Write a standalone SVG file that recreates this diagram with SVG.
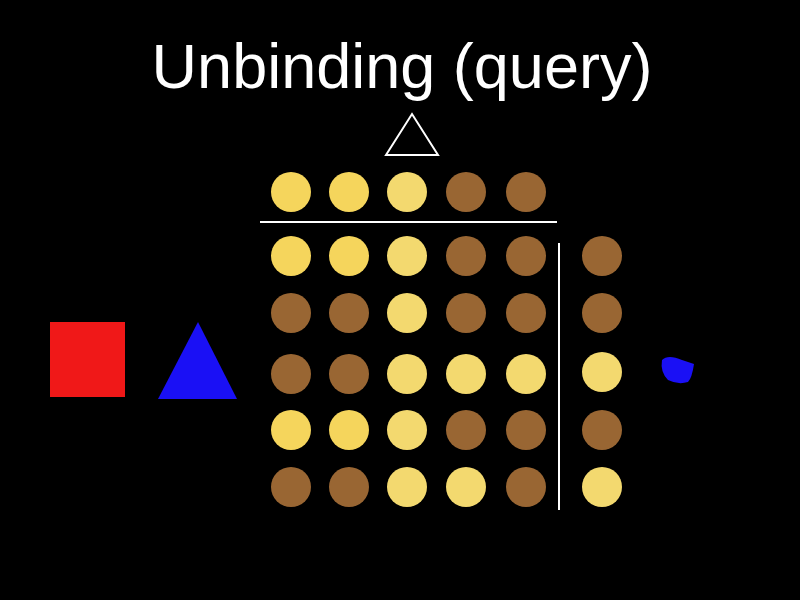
<svg xmlns="http://www.w3.org/2000/svg" width="800" height="600" viewBox="0 0 800 600">
<style>.y{fill:#F5D55C}.l{fill:#F3D96F}.b{fill:#996633}</style>
<rect width="800" height="600" fill="#000"/>
<text x="402" y="88" font-family="Liberation Sans, sans-serif" font-size="63" fill="#fff" text-anchor="middle">Unbinding (query)</text>
<polygon points="386,155 412,114 438,155" fill="none" stroke="#fff" stroke-width="2"/>
<rect x="50" y="322" width="75" height="75" fill="#F01818"/>
<polygon points="158,399 198,322 237,399" fill="#1A10F5"/>
<path d="M662,360 Q668,354 682,360 L694,364 Q692,378 688,382 Q678,385 668,380 Q660,372 662,360Z" fill="#1A10F5"/>
<line x1="260" y1="222" x2="557" y2="222" stroke="#fff" stroke-width="2"/>
<line x1="559" y1="243" x2="559" y2="510" stroke="#fff" stroke-width="2"/>
<g>
<circle class="y" cx="291" cy="192" r="20"/><circle class="y" cx="349" cy="192" r="20"/><circle class="l" cx="407" cy="192" r="20"/><circle class="b" cx="466" cy="192" r="20"/><circle class="b" cx="526" cy="192" r="20"/>
<circle class="y" cx="291" cy="256" r="20"/><circle class="y" cx="349" cy="256" r="20"/><circle class="l" cx="407" cy="256" r="20"/><circle class="b" cx="466" cy="256" r="20"/><circle class="b" cx="526" cy="256" r="20"/><circle class="b" cx="602" cy="256" r="20"/>
<circle class="b" cx="291" cy="313" r="20"/><circle class="b" cx="349" cy="313" r="20"/><circle class="l" cx="407" cy="313" r="20"/><circle class="b" cx="466" cy="313" r="20"/><circle class="b" cx="526" cy="313" r="20"/><circle class="b" cx="602" cy="313" r="20"/>
<circle class="b" cx="291" cy="374" r="20"/><circle class="b" cx="349" cy="374" r="20"/><circle class="l" cx="407" cy="374" r="20"/><circle class="l" cx="466" cy="374" r="20"/><circle class="l" cx="526" cy="374" r="20"/><circle class="l" cx="602" cy="372" r="20"/>
<circle class="y" cx="291" cy="430" r="20"/><circle class="y" cx="349" cy="430" r="20"/><circle class="l" cx="407" cy="430" r="20"/><circle class="b" cx="466" cy="430" r="20"/><circle class="b" cx="526" cy="430" r="20"/><circle class="b" cx="602" cy="430" r="20"/>
<circle class="b" cx="291" cy="487" r="20"/><circle class="b" cx="349" cy="487" r="20"/><circle class="l" cx="407" cy="487" r="20"/><circle class="l" cx="466" cy="487" r="20"/><circle class="b" cx="526" cy="487" r="20"/><circle class="l" cx="602" cy="487" r="20"/>
</g>
</svg>
